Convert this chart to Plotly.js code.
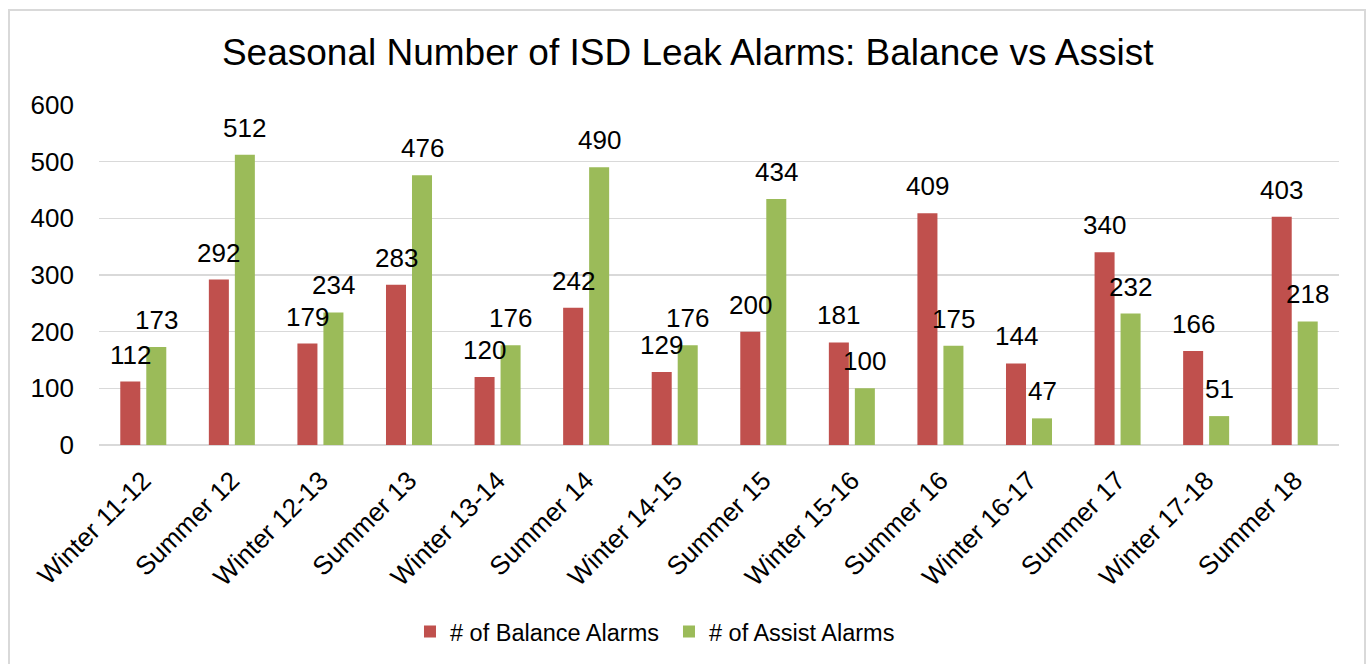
<!DOCTYPE html>
<html>
<head>
<meta charset="utf-8">
<script src="https://cdn.plot.ly/plotly-3.0.1.min.js"></script>
<style>
  html, body { margin: 0; padding: 0; background: #fff; }
  #wrap { position: relative; width: 1370px; height: 664px; overflow: hidden; }
  #chart { width: 1370px; height: 664px; }
  #frame { position: absolute; left: 8px; top: 9px; width: 1358px; height: 670px;
           border: 2px solid #d9d9d9; pointer-events: none; box-sizing: border-box; }
</style>
</head>
<body>
<div id="wrap">
  <div id="chart"></div>
  <div id="frame"></div>
</div>
<script>
const categories = ["Winter 11-12", "Summer 12", "Winter 12-13", "Summer 13", "Winter 13-14",
  "Summer 14", "Winter 14-15", "Summer 15", "Winter 15-16", "Summer 16", "Winter 16-17",
  "Summer 17", "Winter 17-18", "Summer 18"];
const balanceAlarms = [112, 292, 179, 283, 120, 242, 129, 200, 181, 409, 144, 340, 166, 403];
const assistAlarms = [173, 512, 234, 476, 176, 490, 176, 434, 100, 175, 47, 232, 51, 218];
const seriesNames = ["# of Balance Alarms", "# of Assist Alarms"];
const yTicks = [0, 100, 200, 300, 400, 500, 600];

const RED = "#C0504D", GREEN = "#9BBB59";
const FONT = "Arial, 'Liberation Sans', sans-serif";

const traces = [
  { type: "bar", name: seriesNames[0], x: categories, y: balanceAlarms,
    marker: { color: RED }, hoverinfo: "x+y" },
  { type: "bar", name: seriesNames[1], x: categories, y: assistAlarms,
    marker: { color: GREEN }, hoverinfo: "x+y" }
];

const annotations = [];
categories.forEach((c, i) => {
  annotations.push({ x: c, y: balanceAlarms[i], xref: "x", yref: "y", text: String(balanceAlarms[i]),
    showarrow: false, xanchor: "center", yanchor: "bottom", xshift: -13, yshift: 10,
    font: { family: FONT, size: 26, color: "#000" } });
  annotations.push({ x: c, y: assistAlarms[i], xref: "x", yref: "y", text: String(assistAlarms[i]),
    showarrow: false, xanchor: "center", yanchor: "bottom", xshift: 13, yshift: 10,
    font: { family: FONT, size: 26, color: "#000" } });
});

const layout = {
  width: 1370, height: 664,
  margin: { l: 99, r: 31, t: 105, b: 218 },
  paper_bgcolor: "#fff", plot_bgcolor: "#fff",
  font: { family: FONT, color: "#000" },
  title: { text: "Seasonal Number of ISD Leak Alarms: Balance vs Assist",
    font: { family: FONT, size: 37, color: "#000" },
    x: 0.502, xanchor: "center", y: 0.922, yanchor: "middle" },
  barmode: "group", bargap: 0.413, bargroupgap: 0.23,
  xaxis: { type: "category", tickangle: -45, tickfont: { family: FONT, size: 26, color: "#000" },
    showgrid: false, showline: false, ticks: "", automargin: false, ticklabelstandoff: 14 },
  yaxis: { range: [0, 600], tickvals: yTicks, ticktext: yTicks.map(String),
    tickfont: { family: FONT, size: 26, color: "#000" },
    showgrid: true, gridcolor: "#d9d9d9", gridwidth: 1.5, zeroline: true, zerolinecolor: "#d9d9d9",
    zerolinewidth: 1.5, showline: false, ticks: "", automargin: false, ticklabelstandoff: 24 },
  showlegend: true,
  legend: { orientation: "h", x: 0.2508, xanchor: "left", y: -0.545, yanchor: "middle",
    font: { family: FONT, size: 23.5, color: "#000" }, entrywidth: 214, entrywidthmode: "pixels",
    bgcolor: "rgba(0,0,0,0)" },
  annotations: annotations
};

Plotly.newPlot("chart", traces, layout, { displayModeBar: false, staticPlot: true });
</script>
</body>
</html>
